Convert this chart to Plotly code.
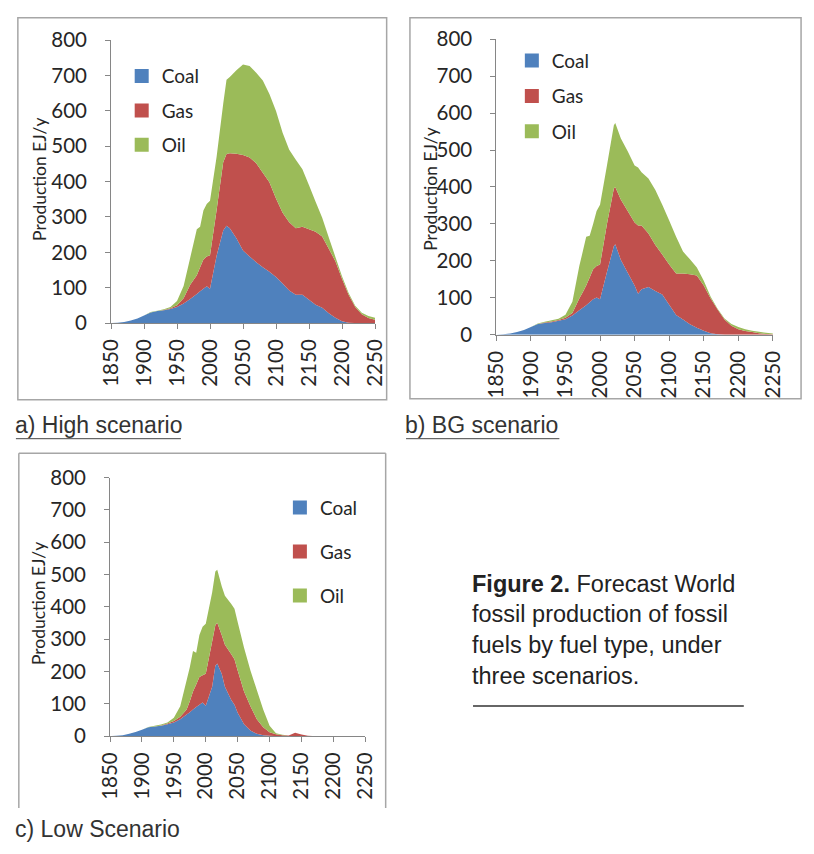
import plotly.graph_objects as go

# ---- data: world fossil fuel production, EJ/y ----
fuels = ["Coal", "Gas", "Oil"]
colors = {"Coal": "#4F81BD", "Gas": "#C0504D", "Oil": "#9BBB59"}
x_ticks = list(range(1850, 2251, 50))
y_ticks = list(range(0, 801, 100))

high_years = [1850, 1860, 1870, 1880, 1890, 1900, 1910, 1920, 1930, 1940, 1950, 1960, 1970,
              1975, 1980, 1985, 1990, 1995, 2000, 2010, 2020, 2025, 2030, 2040, 2050, 2060,
              2070, 2080, 2090, 2100, 2110, 2120, 2130, 2140, 2150, 2160, 2170, 2180, 2190,
              2200, 2210, 2220, 2230, 2240, 2250]
high_coal = [0, 1, 3, 7, 13, 21, 30, 34, 36, 40, 45, 55, 68,
             75, 82, 90, 97, 104, 97, 190, 262, 275, 268, 240, 205, 188,
             172, 158, 145, 130, 112, 92, 80, 80, 66, 52, 43, 28, 15,
             5, 1, 0, 0, 0, 0]
high_gas = [0, 0, 0, 0, 0, 0, 0, 0, 1, 2, 5, 15, 40,
            47, 53, 68, 83, 84, 95, 130, 193, 203, 212, 239, 270, 280,
            280, 267, 253, 222, 200, 193, 188, 192, 199, 206, 202, 182, 160,
            120, 79, 45, 25, 14, 9]
high_oil = [0, 0, 0, 0, 0, 0, 1, 1, 2, 3, 12, 35, 77,
            103, 130, 114, 138, 149, 154, 150, 165, 210, 216, 236, 256, 259,
            256, 261, 250, 248, 226, 205, 194, 163, 125, 85, 53, 32, 12,
            7, 5, 4, 4, 6, 6]

bg_years = [1850, 1860, 1870, 1880, 1890, 1900, 1910, 1920, 1930, 1940, 1950, 1960, 1970,
            1975, 1980, 1985, 1990, 1995, 2000, 2010, 2020, 2022, 2030, 2040, 2050, 2055,
            2060, 2070, 2080, 2090, 2100, 2110, 2120, 2130, 2140, 2150, 2160, 2170, 2180,
            2190, 2200, 2210, 2220, 2230, 2240, 2250]
bg_coal = [0, 1, 3, 7, 13, 21, 29, 32, 34, 38, 42, 52, 66,
           73, 80, 88, 96, 101, 96, 170, 240, 245, 203, 168, 133, 111,
           123, 129, 118, 109, 81, 53, 41, 28, 19, 11, 4, 1, 0,
           0, 0, 0, 0, 0, 0, 0]
bg_gas = [0, 0, 0, 0, 0, 0, 0, 1, 2, 2, 4, 7, 32,
          42, 53, 67, 81, 85, 94, 130, 156, 155, 163, 167, 171, 185,
          173, 145, 125, 108, 109, 113, 125, 136, 141, 122, 94, 67, 41,
          24, 15, 10, 7, 4, 2, 1]
bg_oil = [0, 0, 0, 0, 0, 0, 1, 2, 3, 3, 8, 30, 88,
          110, 132, 113, 123, 149, 162, 158, 171, 173, 166, 162, 154, 157,
          144, 149, 149, 135, 119, 99, 59, 40, 22, 13, 5, 2, 3,
          5, 6, 5, 4, 4, 3, 2]

low_years = [1850, 1860, 1870, 1880, 1890, 1900, 1910, 1920, 1930, 1940, 1950, 1960, 1970,
             1975, 1980, 1985, 1990, 1995, 2000, 2010, 2015, 2018, 2025, 2030, 2040, 2045,
             2050, 2060, 2070, 2080, 2090, 2100, 2110, 2120, 2130, 2140, 2150, 2160, 2170,
             2180, 2190, 2200, 2210, 2220, 2230, 2240, 2250]
low_coal = [0, 1, 3, 7, 13, 20, 27, 30, 32, 37, 42, 52, 67,
            74, 82, 90, 97, 104, 94, 153, 218, 225, 193, 153, 112, 97,
            72, 37, 17, 7, 3, 1, 0, 0, 0, 0, 0, 0, 0,
            0, 0, 0, 0, 0, 0, 0, 0]
low_gas = [0, 0, 0, 0, 0, 0, 0, 0, 1, 2, 5, 8, 15,
           34, 56, 70, 86, 84, 99, 140, 125, 126, 120, 130, 141, 141,
           131, 101, 75, 45, 24, 11, 6, 3, 2, 10, 5, 1, 0,
           0, 0, 0, 0, 0, 0, 0, 0]
low_oil = [0, 0, 0, 0, 0, 0, 1, 2, 3, 3, 10, 32, 91,
           105, 125, 98, 130, 150, 155, 151, 166, 164, 151, 151, 156, 156,
           150, 135, 111, 91, 55, 20, 3, 1, 0, 0, 0, 0, 0,
           0, 0, 0, 0, 0, 0, 0, 0]

W, H = 814, 854
FONT = "Lato"
AXIS_GREY = "#868686"
TEXT = "#262626"


def px_x(v):
    return v / W


def px_y(v):
    return 1 - v / H


panels = [
    # (years, {fuel: values}, axis suffix, plot box (l, r, top, bottom), legend spec, y-title centre)
    (high_years, {"Coal": high_coal, "Gas": high_gas, "Oil": high_oil}, "",
     (101, 373, 28, 319), dict(x=112, y=45.5, gap=6.7), (27, 171.5)),
    (bg_years, {"Coal": bg_coal, "Gas": bg_gas, "Oil": bg_oil}, "2",
     (498, 783, 27, 331), dict(x=514, y=29.5, gap=7.7), (430, 181.5)),
    (low_years, {"Coal": low_coal, "Gas": low_gas, "Oil": low_oil}, "3",
     (100, 363, 478, 744), dict(x=275, y=489.5, gap=16.2), (27, 608)),
]

fig = go.Figure()
layout = dict(
    width=W, height=H,
    margin=dict(l=0, r=0, t=0, b=0),
    paper_bgcolor="white", plot_bgcolor="white",
    font=dict(family=FONT, color=TEXT),
    showlegend=True,
)

for years, series, sfx, box, leg, ttl in panels:
    xa, ya = "x" + sfx, "y" + sfx
    legend_name = "legend" + sfx
    for fuel in fuels:
        fig.add_trace(go.Scatter(
            x=years, y=series[fuel], xaxis=xa, yaxis=ya,
            stackgroup="stack" + sfx, mode="none",
            fillcolor=colors[fuel], name=fuel, showlegend=False,
            hoverinfo="x+y+name",
        ))
    # square legend keys
    for fuel in fuels:
        fig.add_trace(go.Scatter(
            x=[None], y=[None], xaxis=xa, yaxis=ya, mode="markers",
            marker=dict(symbol="square", size=14, color=colors[fuel]),
            name=fuel, legend=legend_name, legendgroup=fuel + sfx,
            showlegend=True,
        ))
    l, r, t, b = box
    layout["xaxis" + sfx] = dict(
        domain=[px_x(l), px_x(r)], anchor=ya, range=[1850, 2250],
        tickvals=x_ticks, ticktext=[str(v) for v in x_ticks], tickangle=-90,
        showgrid=False, zeroline=False, showline=True, linecolor=AXIS_GREY,
        linewidth=1, ticks="outside", ticklen=5, tickcolor=AXIS_GREY,
        tickfont=dict(size=20.5, family=FONT, color=TEXT), ticklabelstandoff=2,
        fixedrange=True,
    )
    layout["yaxis" + sfx] = dict(
        domain=[px_y(b), px_y(t)], anchor=xa, range=[0, 800],
        tickvals=y_ticks, showgrid=False, zeroline=False, showline=True,
        linecolor=AXIS_GREY, linewidth=1, ticks="outside", ticklen=5,
        tickcolor=AXIS_GREY, tickfont=dict(size=20.5, family=FONT, color=TEXT),
        ticklabelstandoff=14, fixedrange=True,
    )
    layout[legend_name] = dict(
        x=px_x(leg["x"]), y=px_y(leg["y"]), xanchor="left", yanchor="top",
        bgcolor="rgba(0,0,0,0)", font=dict(size=19, family=FONT, color=TEXT),
        tracegroupgap=leg["gap"], traceorder="grouped", itemclick=False,
        itemdoubleclick=False,
    )
    # vertical axis title
    fig.add_annotation(text="Production EJ/y", xref="paper", yref="paper",
                       x=px_x(ttl[0]), y=px_y(ttl[1]), xanchor="center", yanchor="middle",
                       textangle=-90, showarrow=False,
                       font=dict(size=17.5, family=FONT, color=TEXT))

fig.update_layout(**layout)

# panel frames
BOX = "#a6a6a6"
frames = [(5, 385, 5, 398), (409, 812, 5, 397)]
for x0, x1, y0, y1 in frames:
    fig.add_shape(type="rect", xref="paper", yref="paper",
                  x0=px_x(x0), x1=px_x(x1), y0=px_y(y1), y1=px_y(y0),
                  line=dict(color=BOX, width=1.5), fillcolor="rgba(0,0,0,0)")
# third frame runs off the bottom of the page section
for xs, ys in [((6, 6), (818, 453)), ((6, 384), (453, 453)), ((384, 384), (453, 818))]:
    fig.add_shape(type="line", xref="paper", yref="paper",
                  x0=px_x(xs[0]), x1=px_x(xs[1]), y0=px_y(ys[0]), y1=px_y(ys[1]),
                  line=dict(color=BOX, width=1.5))

# panel captions
CAP = "#333333"
captions = [("a) High scenario", 0, 424), ("b) BG scenario", 402, 424), ("c) Low Scenario", 0, 840)]
for text, x, y in captions:
    fig.add_annotation(text=text, xref="paper", yref="paper", x=px_x(x), y=px_y(y),
                       xanchor="left", yanchor="middle", showarrow=False,
                       font=dict(size=23, family="Liberation Sans", color=CAP))
for x0, x1 in [(3, 173), (405, 563)]:
    fig.add_shape(type="line", xref="paper", yref="paper",
                  x0=px_x(x0), x1=px_x(x1), y0=px_y(438), y1=px_y(438),
                  line=dict(color="#444444", width=1))

# figure caption
fig_lines = ["<b>Figure 2.</b> Forecast World", "fossil production of fossil",
             "fuels by fuel type, under", "three scenarios."]
for i, line in enumerate(fig_lines):
    fig.add_annotation(text=line, xref="paper", yref="paper", x=px_x(471),
                       y=px_y(587 + i * 31.7), xanchor="left", yanchor="middle",
                       showarrow=False,
                       font=dict(size=23.5, family="Liberation Sans", color="#222222"))
fig.add_shape(type="line", xref="paper", yref="paper",
              x0=px_x(474), x1=px_x(753), y0=px_y(713), y1=px_y(713),
              line=dict(color="#333333", width=1.5))

fig.write_html("out.html")
